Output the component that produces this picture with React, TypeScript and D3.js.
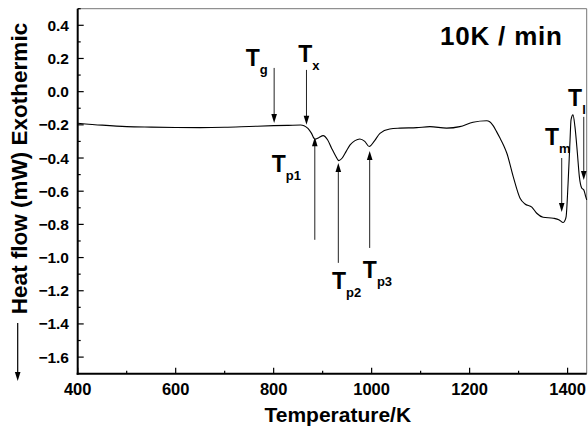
import React from 'react';
import * as d3 from 'd3';

// DSC trace: temperature (K) and heat flow (mW)
const temperature = [
  400, 450, 500, 550, 600, 650, 700, 750, 800, 830, 855, 862, 870, 877, 884, 892, 901,
  910, 918, 926, 933, 940, 948, 956, 966, 976, 986, 995, 1005, 1017, 1037, 1058, 1092,
  1119, 1153, 1180, 1207, 1235, 1241, 1248, 1255, 1262, 1269, 1276, 1289, 1303, 1313,
  1327, 1337, 1350, 1371, 1383, 1391, 1394, 1397, 1401, 1405, 1407, 1411, 1415, 1420,
  1424, 1429, 1433, 1437, 1439
];
const heatFlow = [
  -0.19, -0.202, -0.211, -0.214, -0.216, -0.217, -0.215, -0.21, -0.205, -0.203, -0.201,
  -0.205, -0.222, -0.25, -0.287, -0.278, -0.265, -0.29, -0.339, -0.385, -0.416, -0.4,
  -0.36, -0.321, -0.295, -0.285, -0.3, -0.331, -0.3, -0.251, -0.225, -0.22, -0.217,
  -0.211, -0.22, -0.211, -0.184, -0.175, -0.181, -0.205, -0.241, -0.28, -0.321, -0.371,
  -0.512, -0.642, -0.677, -0.696, -0.733, -0.757, -0.763, -0.773, -0.789, -0.78, -0.753,
  -0.552, -0.291, -0.17, -0.14, -0.211, -0.371, -0.512, -0.582, -0.592, -0.633, -0.652
];

const xTicks = [400, 600, 800, 1000, 1200, 1400];
const xMinor = [500, 700, 900, 1100, 1300];
const yTicks = [0.4, 0.2, 0.0, -0.2, -0.4, -0.6, -0.8, -1.0, -1.2, -1.4, -1.6];
const yMinor = [0.5, 0.3, 0.1, -0.1, -0.3, -0.5, -0.7, -0.9, -1.1, -1.3, -1.5];

// arrows: at temperature t, from heat flow y0 to arrow tip y1; label at (lx, ly)
const annotations = [
  { main: 'T', sub: 'g', t: 801, y0: 0.143, y1: -0.189, lx: 743, ly: 0.155 },
  { main: 'T', sub: 'x', t: 867, y0: 0.131, y1: -0.2, lx: 850, ly: 0.179 },
  { main: 'T', sub: 'p1', t: 884, y0: -0.893, y1: -0.275, lx: 796, ly: -0.484 },
  { main: 'T', sub: 'p2', t: 932, y0: -1.032, y1: -0.43, lx: 919, ly: -1.189 },
  { main: 'T', sub: 'p3', t: 996, y0: -0.942, y1: -0.357, lx: 982, ly: -1.122 },
  { main: 'T', sub: 'm', t: 1388, y0: -0.4, y1: -0.725, lx: 1354, ly: -0.321 },
  { main: 'T', sub: 'l', t: 1433, y0: -0.152, y1: -0.532, lx: 1401, ly: -0.087 }
];

const W = 588;
const H = 429;
const left = 77.7;
const right = 586.7;
const top = 8.7;
const bottom = 373.7;
const font = '"Liberation Sans", Arial, Helvetica, sans-serif';

const App = () => {
  const x = d3.scaleLinear().domain([400, 1439]).range([left, right]);
  const y = d3.scaleLinear().domain([-1.7, 0.5]).range([bottom, top]);

  const pts = temperature.map((t, i) => [t, heatFlow[i]] as [number, number]);
  const line = d3
    .line<[number, number]>()
    .x((d) => x(d[0]))
    .y((d) => y(d[1]))
    .curve(d3.curveMonotoneX);

  const arrowHead = (px: number, py: number, dir: number) => {
    // dir = 1 pointing down, -1 pointing up
    const h = 9 * dir;
    return `M${px},${py} L${px - 2.8},${py - h} L${px + 2.8},${py - h} Z`;
  };

  return (
    <svg
      width={W}
      height={H}
      style={{ position: 'absolute', left: 0, top: 0, background: '#fff' }}
      fontFamily={font}
    >
      {/* frame */}
      <line x1={left} x2={right} y1={top} y2={top} stroke="#777" strokeWidth={1} />
      <line x1={right} x2={right} y1={top} y2={bottom} stroke="#777" strokeWidth={1} />
      <line x1={left} x2={left} y1={top} y2={bottom + 1} stroke="#000" strokeWidth={2} />
      <line x1={left - 1} x2={right} y1={bottom} y2={bottom} stroke="#000" strokeWidth={2} />

      {/* x ticks */}
      {xTicks.map((t) => (
        <g key={'x' + t}>
          <line x1={x(t)} x2={x(t)} y1={bottom} y2={bottom - 6} stroke="#000" strokeWidth={1.2} />
          <text x={x(t)} y={395} textAnchor="middle" fontSize={16.5} fontWeight="bold">
            {t}
          </text>
        </g>
      ))}
      {xMinor.map((t) => (
        <line key={'xm' + t} x1={x(t)} x2={x(t)} y1={bottom} y2={bottom - 3} stroke="#000" strokeWidth={1.2} />
      ))}

      {/* y ticks */}
      {yTicks.map((v) => (
        <g key={'y' + v}>
          <line x1={left} x2={left + 6} y1={y(v)} y2={y(v)} stroke="#000" strokeWidth={1.2} />
          <text x={69} y={y(v) + 5.5} textAnchor="end" fontSize={15.5} fontWeight="bold">
            {d3.format('.1f')(v)}
          </text>
        </g>
      ))}
      {yMinor.map((v) => (
        <line key={'ym' + v} x1={left} x2={left + 3} y1={y(v)} y2={y(v)} stroke="#000" strokeWidth={1.2} />
      ))}

      {/* curve */}
      <path d={line(pts) ?? ''} fill="none" stroke="#000" strokeWidth={1.1} />

      {/* annotations */}
      {annotations.map((a) => {
        const ax = x(a.t);
        const ya = y(a.y0);
        const yb = y(a.y1);
        const dir = yb > ya ? 1 : -1;
        return (
          <g key={a.sub}>
            <line x1={ax} x2={ax} y1={ya} y2={yb - dir * 8} stroke="#222" strokeWidth={1} />
            <path d={arrowHead(ax, yb, dir)} fill="#000" />
            <text x={x(a.lx)} y={y(a.ly)} fontSize={23} fontWeight="bold">
              {a.main}
              <tspan fontSize={13} dy={8}>
                {a.sub}
              </tspan>
            </text>
          </g>
        );
      })}

      <text x={440} y={45} fontSize={26} fontWeight="bold" letterSpacing={0.8}>
        10K / min
      </text>

      {/* axis titles */}
      <text x={337.8} y={422} textAnchor="middle" fontSize={21} fontWeight="bold">
        Temperature/K
      </text>
      <text
        transform={`translate(26.5,168.5) rotate(-90)`}
        textAnchor="middle"
        fontSize={22.5}
        fontWeight="bold"
      >
        Heat flow (mW) Exothermic
      </text>
      <line x1={17.7} x2={17.7} y1={323} y2={372} stroke="#000" strokeWidth={1.2} />
      <path d={arrowHead(17.7, 381, 1)} fill="#000" />
    </svg>
  );
};

export default App;
